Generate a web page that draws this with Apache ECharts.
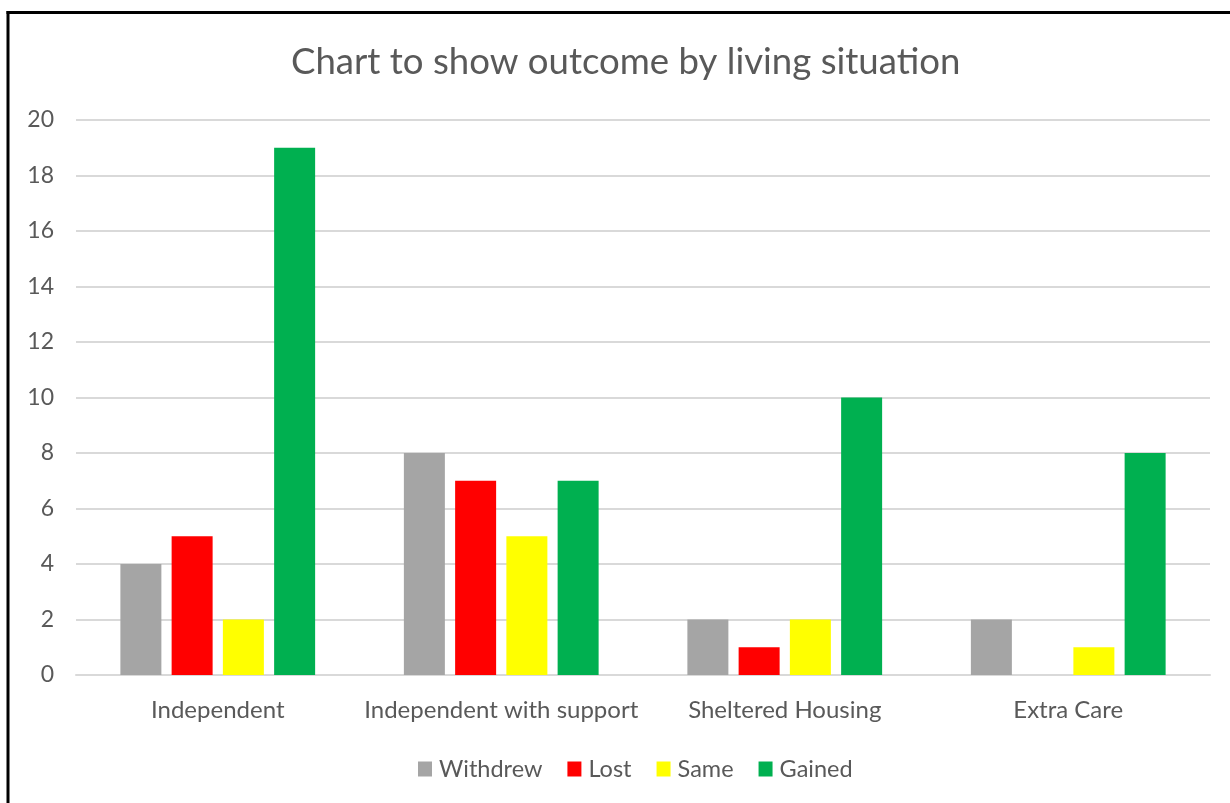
<!DOCTYPE html>
<html>
<head>
<meta charset="utf-8">
<script src="https://cdn.jsdelivr.net/npm/echarts@6/dist/echarts.min.js"></script>
<style>
html,body{margin:0;padding:0;background:#fff;}
#c{width:1230px;height:803px;}
</style>
</head>
<body>
<div id="c"></div>
<script>
const categories = ['Independent', 'Independent with support', 'Sheltered Housing', 'Extra Care'];
const withdrew = [4, 8, 2, 2];
const lost = [5, 7, 1, 0];
const same = [2, 5, 2, 1];
const gained = [19, 7, 10, 8];
const yTicks = { min: 0, max: 20, interval: 2 };

const font = 'Lato, "Open Sans", sans-serif';
const chart = echarts.init(document.getElementById('c'), null, { renderer: 'canvas' });
function bar(name, data, color) {
  return { name, type: 'bar', data, barWidth: 41, barGap: '25%', itemStyle: { color }, emphasis: { disabled: true } };
}
chart.setOption({
  animation: false,
  backgroundColor: '#fff',
  title: {
    text: 'Chart to show outcome by living situation',
    left: 286, top: 39,
    textStyle: { fontFamily: font, fontSize: 36.6, fontWeight: 'normal', color: '#595959' }
  },
  legend: {
    top: 752, left: 413,
    icon: 'rect', itemWidth: 14, itemHeight: 15, itemGap: 25,
    textStyle: { fontFamily: font, fontSize: 23.5, color: '#595959', padding: [0, 0, 0, 2] },
    data: ['Withdrew', 'Lost', 'Same', 'Gained']
  },
  grid: { left: 76, right: 20, top: 120, bottom: 128, containLabel: false },
  xAxis: {
    type: 'category', data: categories,
    axisLine: { lineStyle: { color: '#d9d9d9', width: 2 } },
    axisTick: { show: false },
    axisLabel: { interval: 0, fontFamily: font, fontSize: 24, color: '#595959', margin: 23 }
  },
  yAxis: {
    type: 'value', min: yTicks.min, max: yTicks.max, interval: yTicks.interval,
    axisLine: { show: false }, axisTick: { show: false },
    splitLine: { lineStyle: { color: '#d9d9d9', width: 2 } },
    axisLabel: { fontFamily: font, fontSize: 23, color: '#595959', margin: 22 }
  },
  series: [
    bar('Withdrew', withdrew, '#a5a5a5'),
    bar('Lost', lost, '#ff0000'),
    bar('Same', same, '#ffff00'),
    bar('Gained', gained, '#00b050')
  ],
  graphic: [
    { type: 'line', shape: { x1: 6.5, y1: 12.5, x2: 1230, y2: 12.5 }, style: { stroke: '#000', lineWidth: 3 } },
    { type: 'line', shape: { x1: 8, y1: 11, x2: 8, y2: 803 }, style: { stroke: '#000', lineWidth: 3 } }
  ]
});
</script>
</body>
</html>
